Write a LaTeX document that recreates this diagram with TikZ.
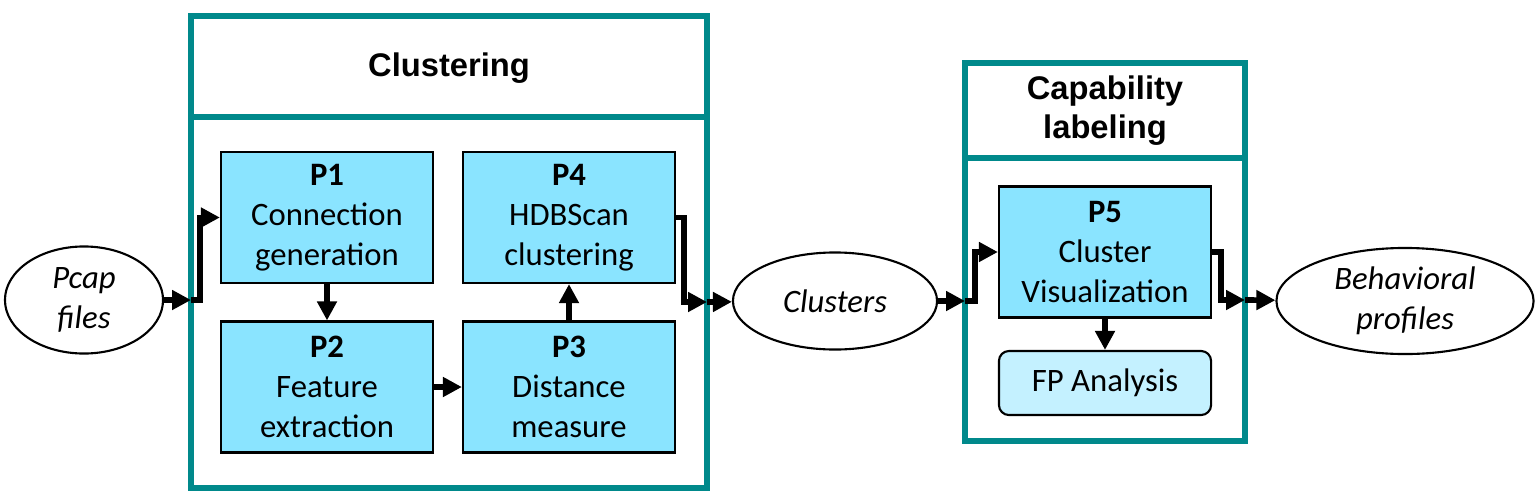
\documentclass[tikz,border=0pt]{standalone}
\usepackage{fontspec}
\setmainfont{Carlito}
\newfontfamily\headfont{Liberation Sans}
\usetikzlibrary{positioning,shapes,arrows.meta}
\definecolor{tealframe}{HTML}{00898B}
\definecolor{procblue}{HTML}{8AE4FF}
\definecolor{paleblue}{HTML}{C4F1FF}

\begin{document}
\begin{tikzpicture}[x=0.01cm, y=-0.01cm,
    frame/.style={draw=tealframe, line width=1.6pt},
    proc/.style={draw, line width=0.6pt, fill=procblue, minimum width=2.12cm,
        minimum height=1.31cm, align=center, inner sep=0pt,
        font=\fontsize{9.3}{11.4}\selectfont},
    data/.style={draw, ellipse, line width=0.6pt, align=center, inner sep=0pt,
        font=\fontsize{9.3}{11.4}\selectfont\itshape},
    flow/.style={line width=1.6pt, -{Triangle[length=5.4pt,width=5.4pt]}},
    head/.style={font=\headfont\bfseries\fontsize{9.3}{11.1}\selectfont, align=center}]
\useasboundingbox (0,0) rectangle (1540,500);

% Input / output data
\node[data, minimum width=1.58cm, minimum height=1.07cm] (pcap) at (84,300) {Pcap\\files};
\node[data, minimum width=2.04cm, minimum height=0.97cm] (clusters) at (835,301) {Clusters};
\node[data, minimum width=2.57cm, minimum height=1.06cm] (profiles) at (1405,301) {Behavioral\\profiles};

% Clustering stage
\draw[frame] (191,16) rectangle (707,488);
\draw[frame] (191,117) -- (707,117);
\node[head] (clustering) at (449,68) {Clustering};

\node[proc] (p1) at (327,217.5) {\textbf{P1}\\Connection\\generation};
\node[proc] (p4) at (569,217.5) {\textbf{P4}\\HDBScan\\clustering};
\node[proc] (p2) at (327,387) {\textbf{P2}\\Feature\\extraction};
\node[proc] (p3) at (569,387) {\textbf{P3}\\Distance\\measure};

% Capability labeling stage
\draw[frame] (965,63) rectangle (1245,441);
\draw[frame] (965,158) -- (1245,158);
\node[head] (labeling) at (1105,111) {Capability\\labeling};

\node[proc] (p5) at (1105,252) {\textbf{P5}\\Cluster\\Visualization};
\node[proc, fill=paleblue, rounded corners=0.1cm, minimum height=0.64cm] (fp) at (1105,383) {FP Analysis};

% Stage borders
\coordinate (cin) at (191,300);
\coordinate (cout) at (707,302);
\coordinate (lin) at (965,301);
\coordinate (lout) at (1245,300);

% Flow
\draw[flow] (pcap) -- (cin);
\draw[flow] (cin) -- ++(9,0) |- (p1);
\draw[flow] (p1) -- (p2);
\draw[flow] (p2) -- (p3);
\draw[flow] (p3) -- (p4);
\draw[flow] (p4.east) -- ++(8,0) |- (cout);
\draw[flow] (cout) -- (clusters);
\draw[flow] (clusters) -- (lin);
\draw[flow] (lin) -- ++(10,0) |- (p5);
\draw[flow] (p5) -- (fp);
\draw[flow] (p5.east) -- ++(9,0) |- (lout);
\draw[flow] (lout) -- (profiles);

\end{tikzpicture}
\end{document}
